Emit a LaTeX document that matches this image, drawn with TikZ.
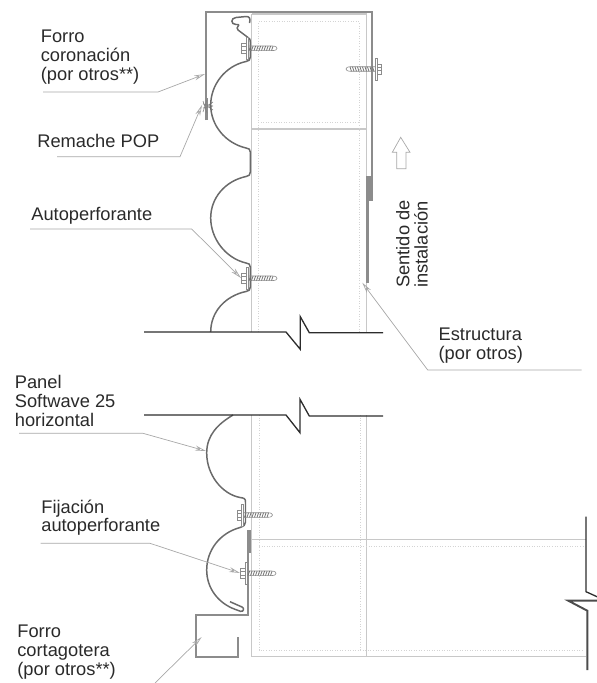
\documentclass[tikz,border=0pt]{standalone}
\usepackage{fontspec}
\setmainfont{Liberation Sans}
\usetikzlibrary{arrows.meta}
\definecolor{txt}{HTML}{2A2A2A}
\definecolor{panelc}{HTML}{6A6A6A}
\definecolor{flash}{HTML}{8C8C8C}
\definecolor{breakc}{HTML}{2C2C2C}
\definecolor{structc}{HTML}{C8C8C8}
\definecolor{dotc}{HTML}{D4D4D4}
\definecolor{leaderc}{HTML}{A8A8A8}
\tikzset{
  label text/.style={font=\fontsize{10.4pt}{10.6pt}\selectfont,text=txt,align=left,anchor=base west,inner sep=0pt},
  panel line/.style={draw=panelc,line width=0.85pt,line join=round},
  flash line/.style={draw=flash,line width=1.15pt,line join=miter},
  lap line/.style={draw=flash,line width=1.9pt},
  break line/.style={draw=breakc,line width=0.75pt,line join=miter},
  struct line/.style={draw=structc,line width=0.6pt},
  inner line/.style={draw=dotc,line width=0.45pt,densely dotted},
  leader/.style={draw=leaderc,line width=0.4pt,-{Stealth[open,length=2.2mm,width=1mm]}},
  leader plain/.style={draw=leaderc,line width=0.4pt},
  screw line/.style={draw=black!45,line width=0.35pt}
}
\newcommand{\myscrew}[3]{%
  \begin{scope}[shift={(#1,#2)},xscale=#3]
    \draw[screw line,fill=white] (-1,-11) rectangle (1,11);
    \draw[screw line] (-5.5,-5) rectangle (-1,5);
    \draw[screw line] (-5.5,-1.8) -- (-1,-1.8) (-5.5,1.8) -- (-1,1.8);
    \draw[screw line] (1,-2.3) -- (25,-2.3) .. controls (29,-2.3) and (30,-1) .. (30,0) .. controls (30,1) and (29,2.3) .. (25,2.3) -- (1,2.3);
    \foreach \k in {2,4.5,...,24.5} \draw[draw=black!55,line width=0.45pt] (\k,2.3) -- (\k+1.6,-2.3);
  \end{scope}}
\begin{document}
\begin{tikzpicture}[x=0.02cm,y=-0.02cm]
\useasboundingbox (0,0) rectangle (597,683);
% upper structure
\draw[struct line] (251.7,14) -- (366.7,14) -- (366.7,332);
\draw[struct line] (251.7,14) -- (251.7,332);
\draw[struct line] (251.7,129) -- (366.7,129);
\draw[inner line] (258.3,332) -- (258.3,21.7) -- (359.3,21.7) -- (359.3,332);
\draw[inner line] (258.3,122.7) -- (359.3,122.7);
% lower structure
\draw[struct line] (251.7,415) -- (251.7,656.7) -- (586,656.7);
\draw[struct line] (251.7,539.3) -- (586,539.3);
\draw[struct line] (366.7,415) -- (366.7,656.7);
\draw[inner line] (259,415) -- (259,650) -- (584,650);
\draw[inner line] (259,546.7) -- (584,546.7);
\draw[inner line] (360,415) -- (360,650);
% upper flashing
\draw[flash line] (205.7,120) -- (205.7,12) -- (372,12) -- (372,201);
\draw[draw=flash,line width=1.3pt] (367.6,176) -- (367.6,283);
\draw[lap line] (369.6,176) -- (369.6,201);
\draw[lap line] (206.8,98) -- (206.8,120);
% rivet
\draw[screw line,draw=black!50] (203,104) -- (213,106) (203,108) -- (213,106) (203,101) -- (207,113) (207,100) -- (203,112) (207,106) -- (213,102) (207,106) -- (213,110);
% upper panel
\draw[panel line] (249.5,23) .. controls (251,18) and (249,16.5) .. (246,16.5) -- (236,17.5)
  .. controls (230.5,18) and (230.5,24.5) .. (236,24.5) -- (238,24.5)
  .. controls (241,25) and (235,27) .. (238,30) -- (248,37.5)
  .. controls (250,39) and (250.3,39) .. (250.3,42) -- (250.3,57)
  .. controls (250.3,60) and (249,61) .. (246,61.5)
  .. controls (225,66) and (210.7,85) .. (210.7,105)
  .. controls (210.7,125) and (225,143) .. (246,148)
  .. controls (249,148.5) and (250.3,149) .. (250.3,152) -- (250.3,172)
  .. controls (250.3,175) and (249,176) .. (246,176.5)
  .. controls (225,181) and (210.7,198) .. (210.7,218)
  .. controls (210.7,238) and (225,258) .. (246,263)
  .. controls (249,263.5) and (250.3,264) .. (250.3,267) -- (250.3,287)
  .. controls (250.3,290) and (249,291) .. (246,291.5)
  .. controls (225,296) and (210.7,312) .. (210.7,332);
% lower panel
\draw[panel line] (233,415) .. controls (218,424) and (206.7,435) .. (206.7,453)
  .. controls (206.7,475) and (222,494) .. (240,497.5)
  .. controls (244,498) and (245.5,498.5) .. (245.5,502) -- (245.5,522)
  .. controls (245.5,525) and (244,526) .. (240,527.5)
  .. controls (220,533) and (206.7,550) .. (206.7,570)
  .. controls (206.7,588) and (218,603) .. (235,609.3)
  -- (240.5,611.3) .. controls (244,612) and (244.5,608) .. (242,607) -- (230,601.7);
% lower flashing
\draw[flash line] (248.3,530) -- (248.3,615) -- (195.7,615) -- (195.7,656.7) -- (238.3,656.7) -- (238.3,636.7);
\draw[lap line] (249.4,530) -- (249.4,553);
% screws
\myscrew{247}{48.3}{1}
\myscrew{376}{69}{-1}
\myscrew{247}{278.3}{1}
\myscrew{242.5}{515}{1}
\myscrew{246}{573.3}{1}
% break lines
\draw[break line] (144,332) -- (286,332) -- (300.3,349.3) -- (300.3,316.7) -- (309.3,332.7) -- (383,332.7);
\draw[break line] (144,415) -- (286,415) -- (300,432.7) -- (300,399.3) -- (309.3,416) -- (383,416);
\draw[break line] (586,516.7) -- (586,591.7) -- (597,596.7);
\draw[break line,draw=black!70,line width=1.1pt] (597,600.7) -- (568.3,600.7) -- (587.3,610.7) -- (587.3,670);
% direction arrow
\draw[leader plain] (396.7,168.7) -- (396.7,152.3) -- (392.3,152.3) -- (400.7,137.3) -- (410,152.3) -- (406,152.3) -- (406,168.7) -- cycle;
% labels
\node[label text] (forroC) at (40.5,80) {Forro\\coronación\\(por otros**)};
\node[label text] (remache) at (37,147) {Remache POP};
\node[label text] (auto) at (31,220) {Autoperforante};
\node[label text] (panel) at (14.5,426) {Panel\\Softwave 25\\horizontal};
\node[label text] (fijacion) at (41,531.7) {Fijación\\autoperforante};
\node[label text] (forroG) at (17,675) {Forro\\cortagotera\\(por otros**)};
\node[label text] (estr) at (438.3,359.3) {Estructura\\(por otros)};
\node[label text,rotate=90] (sent) at (409.3,288) {Sentido de};
\node[label text,rotate=90] (inst) at (427.7,288) {instalación};
% leader anchors
\coordinate (a1) at (43,92); \coordinate (a2) at (158,92); \coordinate (a3) at (205,74);
\coordinate (b1) at (57,156.7); \coordinate (b2) at (180,156.7); \coordinate (b3) at (202,105);
\coordinate (c1) at (30,229); \coordinate (c2) at (191.7,229); \coordinate (c3) at (241,278);
\coordinate (d1) at (19,433.3); \coordinate (d2) at (143,433.3); \coordinate (d3) at (206,451);
\coordinate (e1) at (40.7,543.3); \coordinate (e2) at (150,543.3); \coordinate (e3) at (240,573);
\coordinate (f1) at (155,683); \coordinate (f3) at (201.7,637);
\coordinate (g1) at (581.7,370); \coordinate (g2) at (427.7,370); \coordinate (g3) at (362.3,282.7);
\draw[leader] (a1) -- (a2) -- (a3);
\draw[leader] (b1) -- (b2) -- (b3);
\draw[leader] (c1) -- (c2) -- (c3);
\draw[leader] (d1) -- (d2) -- (d3);
\draw[leader] (e1) -- (e2) -- (e3);
\draw[leader] (f1) -- (f3);
\draw[leader] (g1) -- (g2) -- (g3);
\end{tikzpicture}
\end{document}
